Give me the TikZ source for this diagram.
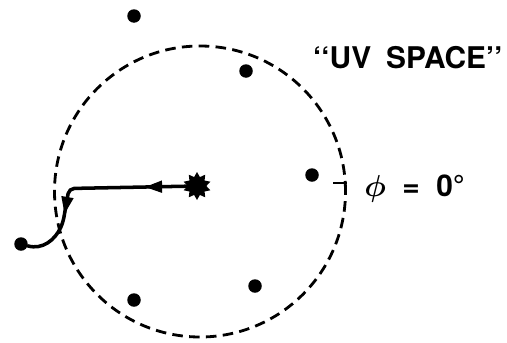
\documentclass[tikz,border=0pt]{standalone}
\usepackage{amsmath}
\usepackage{fontspec}
\setmainfont{TeX Gyre Heros}
\usetikzlibrary{arrows.meta,decorations.markings,shapes.geometric}
\tikzset{
  every picture/.style={draw=black, text=black},
  sample/.style={circle, fill=black, inner sep=0pt, minimum size=0.27cm},
  burst/.style={star, star points=10, star point ratio=1.5, fill=black,
    inner sep=0pt, minimum size=0.56cm},
  track/.style={line width=2pt, line join=round, line cap=round, rounded corners=3pt},
  flowmarks/.style={postaction={decorate}, decoration={markings,
    mark=at position 1.05cm with {\arrow{Triangle[length=10pt,width=6.5pt]}},
    mark=at position 3.05cm with {\arrow{Triangle[length=10pt,width=6.5pt]}}}},
  tag/.style={font=\fontsize{17}{19}\selectfont\bfseries, inner sep=0pt},
}

\begin{document}
\begin{tikzpicture}
\useasboundingbox (0,0) rectangle (10.14,-6.84);
% Boundary of the UV space
\draw[line width=1.6pt, dash pattern=on 6pt off 3.6pt] (4.0,-3.83) circle (2.91);
% Source at the centre
\node[burst] (src) at (3.94,-3.72) {};
% Sample points
\node[sample] (p1) at (2.68,-0.32) {};
\node[sample] (p2) at (4.92,-1.42) {};
\node[sample] (p3) at (6.24,-3.50) {};
\node[sample] (p4) at (5.10,-5.72) {};
\node[sample] (p5) at (2.68,-6.00) {};
\node[sample] (p6) at (0.42,-4.88) {};
% Path out of the source
\coordinate (turn) at (1.38,-3.77);
\coordinate (bend) at (1.26,-4.45);
\draw[track, flowmarks] (src.center) -- (turn) -- (bend)
  .. controls (1.10,-4.80) and (0.85,-5.0) .. (p6);
% Reference mark at phi = 0
\coordinate (tickl) at (6.66,-3.66);
\coordinate (tickr) at (6.94,-3.66);
\draw[line width=1.6pt] (tickl) -- (tickr);
% Labels
\node[tag, anchor=west] (phi) at (7.28,-3.78) {$\boldsymbol{\phi}$\hspace{0.55em}=\hspace{0.55em}0°};
\node[tag, anchor=east] (uv) at (10.06,-1.16) {‘‘UV\hspace{0.5em}SPACE’’};
\end{tikzpicture}
\end{document}
